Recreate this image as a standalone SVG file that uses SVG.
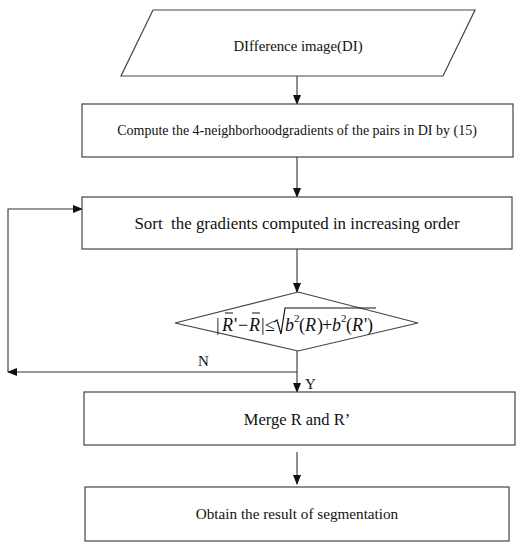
<svg xmlns="http://www.w3.org/2000/svg" width="530" height="550" viewBox="0 0 530 550">
<defs>
<marker id="ah" markerWidth="10" markerHeight="8" refX="9" refY="4" orient="auto" markerUnits="userSpaceOnUse">
<path d="M0,0 L10,4 L0,8 Z" fill="#111"/>
</marker>
<style>
.shape{fill:#fff;stroke:#444;stroke-width:1.2}
.conn{fill:none;stroke:#333;stroke-width:1.1}
.t{font-family:"Liberation Serif","Times New Roman",serif;font-size:14px;fill:#111}
.m{font-family:"Liberation Serif","Times New Roman",serif;font-size:18px;fill:#111}
.i{font-style:italic}
.s{font-size:11px}
</style>
</defs>
<rect width="530" height="550" fill="#fff"/>
<g id="connectors">
<line class="conn" x1="297" y1="76" x2="297" y2="104" marker-end="url(#ah)"/>
<line class="conn" x1="297" y1="157" x2="297" y2="197" marker-end="url(#ah)"/>
<line class="conn" x1="297" y1="249" x2="297" y2="292" marker-end="url(#ah)"/>
<line class="conn" x1="297" y1="351" x2="297" y2="392" marker-end="url(#ah)"/>
<line class="conn" x1="297" y1="372" x2="8" y2="372" marker-end="url(#ah)"/>
<polyline class="conn" points="8,372 8,209 82,209" marker-end="url(#ah)"/>
<line class="conn" x1="297" y1="452" x2="297" y2="484" marker-end="url(#ah)"/>
<text class="t" x="198" y="366" style="font-size:15px">N</text>
<text class="t" x="305" y="389" style="font-size:15px">Y</text>
</g>
<g id="input">
<polygon class="shape" points="153,10 475,10 443,76 121,76"/>
<text class="t" x="298" y="51" text-anchor="middle" style="font-size:14.8px">DIfference image(DI)</text>
</g>
<g id="compute">
<rect class="shape" x="82" y="104" width="431" height="53"/>
<text class="t" x="297" y="135" text-anchor="middle">Compute the 4-neighborhoodgradients of the pairs in DI by (15)</text>
</g>
<g id="sort">
<rect class="shape" x="82" y="197" width="430" height="52"/>
<text class="t" x="297" y="229" text-anchor="middle" xml:space="preserve" style="font-size:16.9px;white-space:pre">Sort  the gradients computed in increasing order</text>
</g>
<g id="decision">
<polygon class="shape" points="298,292 418,323 298,351 175,323"/>
<text class="m" y="331"><tspan x="216">|</tspan><tspan class="i" x="222">R</tspan><tspan x="234">'</tspan><tspan x="238">−</tspan><tspan class="i" x="249">R</tspan><tspan x="261">|</tspan><tspan x="265">≤</tspan><tspan class="i" x="285">b</tspan><tspan class="s" x="294" y="322">2</tspan><tspan x="299" y="331">(</tspan><tspan class="i" x="305">R</tspan><tspan x="317">)</tspan><tspan x="322">+</tspan><tspan class="i" x="332">b</tspan><tspan class="s" x="341" y="322">2</tspan><tspan x="346" y="331">(</tspan><tspan class="i" x="352">R</tspan><tspan x="364">'</tspan><tspan x="367">)</tspan></text>
<path d="M225,313 H233 M252,313 H260" stroke="#111" stroke-width="1.2" fill="none"/>
<path d="M274,322 L277,320 L281,334 L285,308 H376" stroke="#111" stroke-width="1.2" fill="none"/>
</g>
<g id="merge">
<rect class="shape" x="84" y="392" width="431" height="53"/>
<text class="t" x="297" y="425" text-anchor="middle" style="font-size:16.5px">Merge R and R’</text>
</g>
<g id="result">
<rect class="shape" x="85" y="487" width="424" height="54"/>
<text class="t" x="297" y="519" text-anchor="middle" style="font-size:15.2px">Obtain the result of segmentation</text>
</g>
</svg>
